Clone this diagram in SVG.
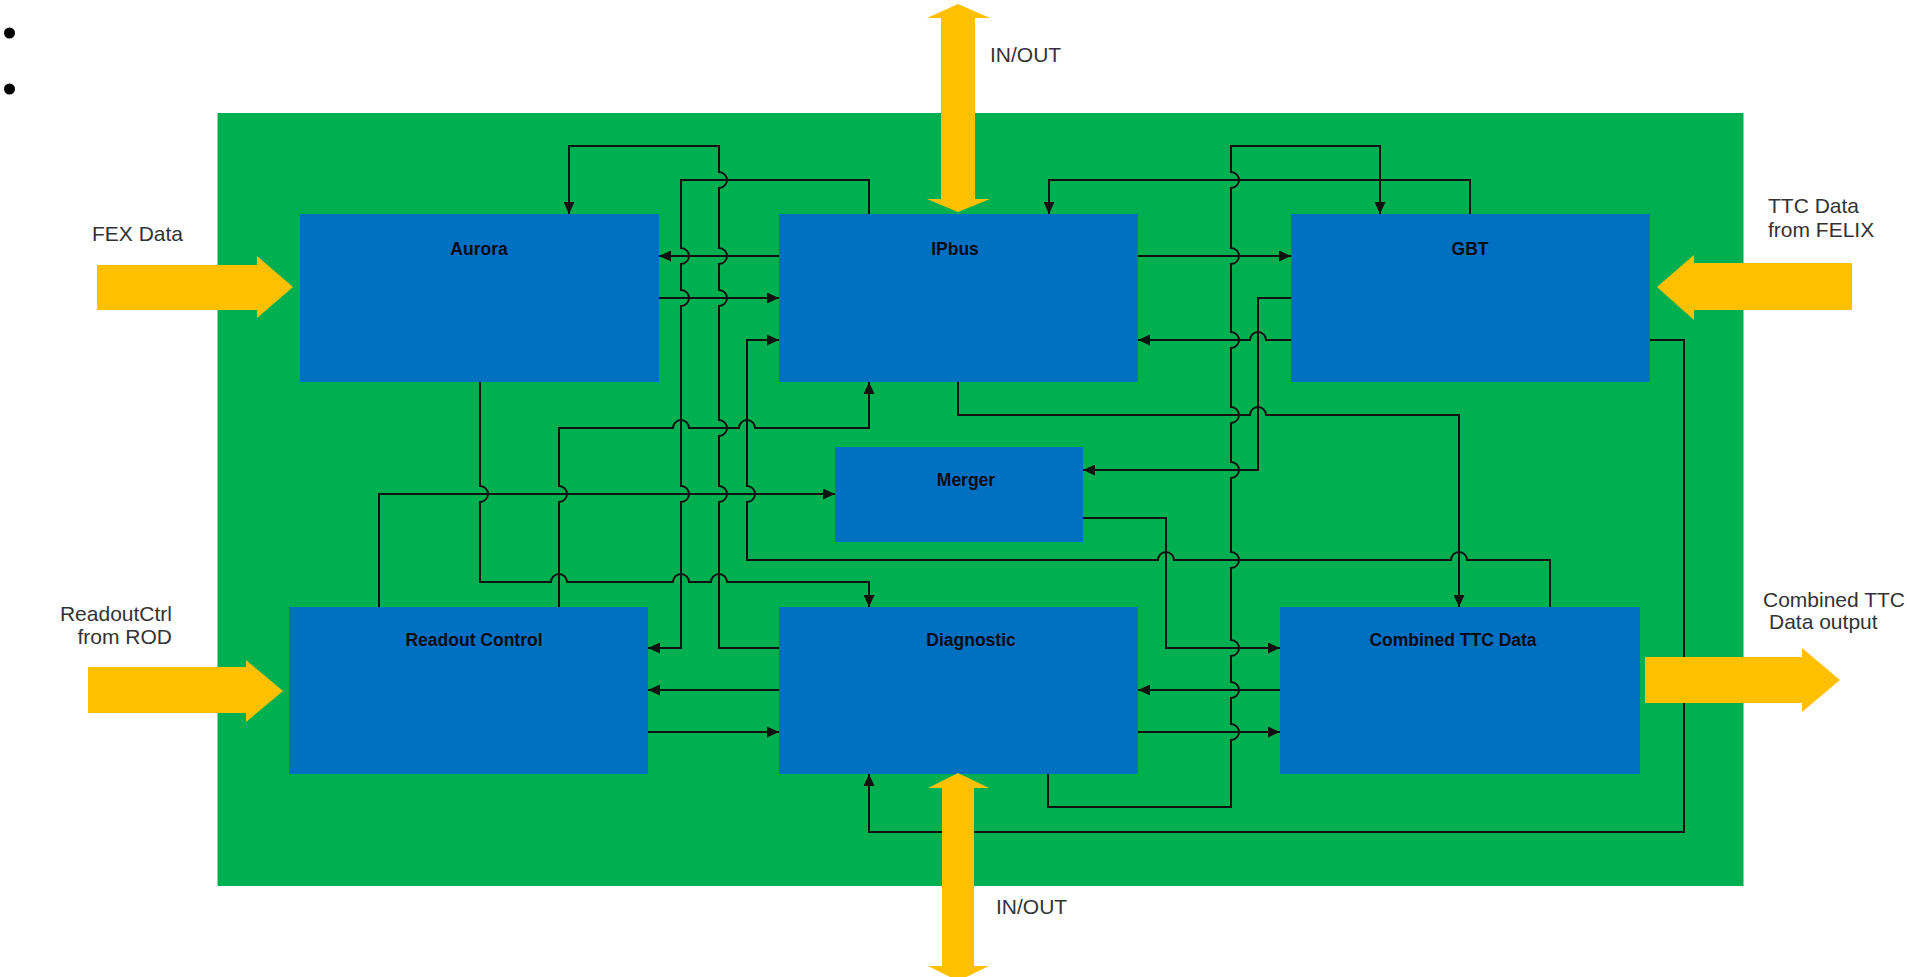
<svg xmlns="http://www.w3.org/2000/svg" width="1907" height="977" viewBox="0 0 1907 977">
<style>
.bg{fill:#00B050}
.box{fill:#0070C0}
.io{fill:#FFC000}
.ln{fill:none;stroke:#111;stroke-width:2;marker-end:url(#ah)}
.bl{font-family:"Liberation Sans",Arial,sans-serif;font-weight:bold;font-size:17.5px;fill:#0a0a14;text-anchor:middle}
.ol{font-family:"Liberation Sans",Arial,sans-serif;font-size:21px;fill:#333}
</style>
<defs>
<marker id="ah" viewBox="0 0 12 11" refX="12" refY="5.5" markerWidth="12" markerHeight="11" markerUnits="userSpaceOnUse" orient="auto">
<path d="M0,0 L12,5.5 L0,11 z" fill="#111"/>
</marker>
</defs>
<rect width="1907" height="977" fill="#fff"/>
<circle cx="9.5" cy="33" r="5.5" fill="#000"/>
<circle cx="9.5" cy="89" r="5.5" fill="#000"/>
<rect class="bg" x="217.5" y="113" width="1526" height="773"/>

<g id="connectors">
<path class="ln" d="M779 648 H719 V502 A8 8 0 0 0 719 486 V436 A8 8 0 0 0 719 420 V306 A8 8 0 0 0 719 290 V264 A8 8 0 0 0 719 248 V188 A8 8 0 0 0 719 172 V146 H569 V214"/>
<path class="ln" d="M869 214 V180 H681 V248 A8 8 0 0 1 681 264 V290 A8 8 0 0 1 681 306 V486 A8 8 0 0 1 681 502 V648 H648"/>
<path class="ln" d="M659 298 H779"/>
<path class="ln" d="M779 256 H659"/>
<path class="ln" d="M1550 607 V560 H1467 A8 8 0 0 0 1451 560 H1174 A8 8 0 0 0 1158 560 H747 V502 A8 8 0 0 0 747 486 V340 H779"/>
<path class="ln" d="M559 607 V502 A8 8 0 0 0 559 486 V428 H673 A8 8 0 0 1 689 428 H739 A8 8 0 0 1 755 428 H869 V382"/>
<path class="ln" d="M480 382 V486 A8 8 0 0 1 480 502 V582 H551 A8 8 0 0 1 567 582 H673 A8 8 0 0 1 689 582 H711 A8 8 0 0 1 727 582 H869 V607"/>
<path class="ln" d="M379 607 V494 H835"/>
<path class="ln" d="M779 690 H648"/>
<path class="ln" d="M648 732 H779"/>
<path class="ln" d="M1138 256 H1291"/>
<path class="ln" d="M1291 340 H1266 A8 8 0 0 0 1250 340 H1138"/>
<path class="ln" d="M1470 214 V180 H1049 V214"/>
<path class="ln" d="M1048 774 V807 H1231 V740 A8 8 0 0 0 1231 724 V698 A8 8 0 0 0 1231 682 V656 A8 8 0 0 0 1231 640 V568 A8 8 0 0 0 1231 552 V478 A8 8 0 0 0 1231 462 V423 A8 8 0 0 0 1231 407 V348 A8 8 0 0 0 1231 332 V264 A8 8 0 0 0 1231 248 V188 A8 8 0 0 0 1231 172 V146 H1380 V214"/>
<path class="ln" d="M1291 298 H1258 V470 H1083"/>
<path class="ln" d="M958 382 V415 H1250 A8 8 0 0 1 1266 415 H1459 V607"/>
<path class="ln" d="M1083 518 H1166 V648 H1280"/>
<path class="ln" d="M1280 690 H1138"/>
<path class="ln" d="M1138 732 H1280"/>
<path class="ln" d="M1650 340 H1684 V832 H869 V774"/>
</g>

<g id="node-aurora"><rect class="box" x="300" y="214" width="359" height="168"/><text class="bl" x="479" y="255">Aurora</text></g>
<g id="node-ipbus"><rect class="box" x="779" y="214" width="359" height="168"/><text class="bl" x="955" y="255">IPbus</text></g>
<g id="node-gbt"><rect class="box" x="1291" y="214" width="359" height="168"/><text class="bl" x="1470" y="255">GBT</text></g>
<g id="node-merger"><rect class="box" x="835" y="447" width="248" height="95"/><text class="bl" x="966" y="486">Merger</text></g>
<g id="node-readout"><rect class="box" x="289" y="607" width="359" height="167"/><text class="bl" x="474" y="646">Readout Control</text></g>
<g id="node-diagnostic"><rect class="box" x="779" y="607" width="359" height="167"/><text class="bl" x="971" y="646">Diagnostic</text></g>
<g id="node-combined"><rect class="box" x="1280" y="607" width="360" height="167"/><text class="bl" x="1453" y="646">Combined TTC Data</text></g>

<g id="io-arrows">
<polygon class="io" points="97,265 257,265 257,256 293,287 257,318 257,310 97,310"/>
<polygon class="io" points="1852,263 1694,263 1694,255 1657,287 1694,320 1694,310 1852,310"/>
<polygon class="io" points="88,667 246,667 246,660 283,691 246,722 246,713 88,713"/>
<polygon class="io" points="1645,657 1802,657 1802,648 1840,680 1802,712 1802,703 1645,703"/>
<polygon class="io" points="958,4 990,18 975,18 975,199 990,199 958,212 927,199 941,199 941,18 927,18"/>
<polygon class="io" points="958,773 989,788 974,788 974,966 989,966 958,981 928,966 942,966 942,788 928,788"/>
</g>

<g id="labels">
<text class="ol" x="92" y="241">FEX Data</text>
<text class="ol" x="1768" y="213">TTC Data</text>
<text class="ol" x="1768" y="237">from FELIX</text>
<text class="ol" x="172" y="621" text-anchor="end">ReadoutCtrl</text>
<text class="ol" x="172" y="644" text-anchor="end">from ROD</text>
<text class="ol" x="1763" y="607">Combined TTC</text>
<text class="ol" x="1769" y="629">Data output</text>
<text class="ol" x="990" y="62">IN/OUT</text>
<text class="ol" x="996" y="914">IN/OUT</text>
</g>
</svg>
